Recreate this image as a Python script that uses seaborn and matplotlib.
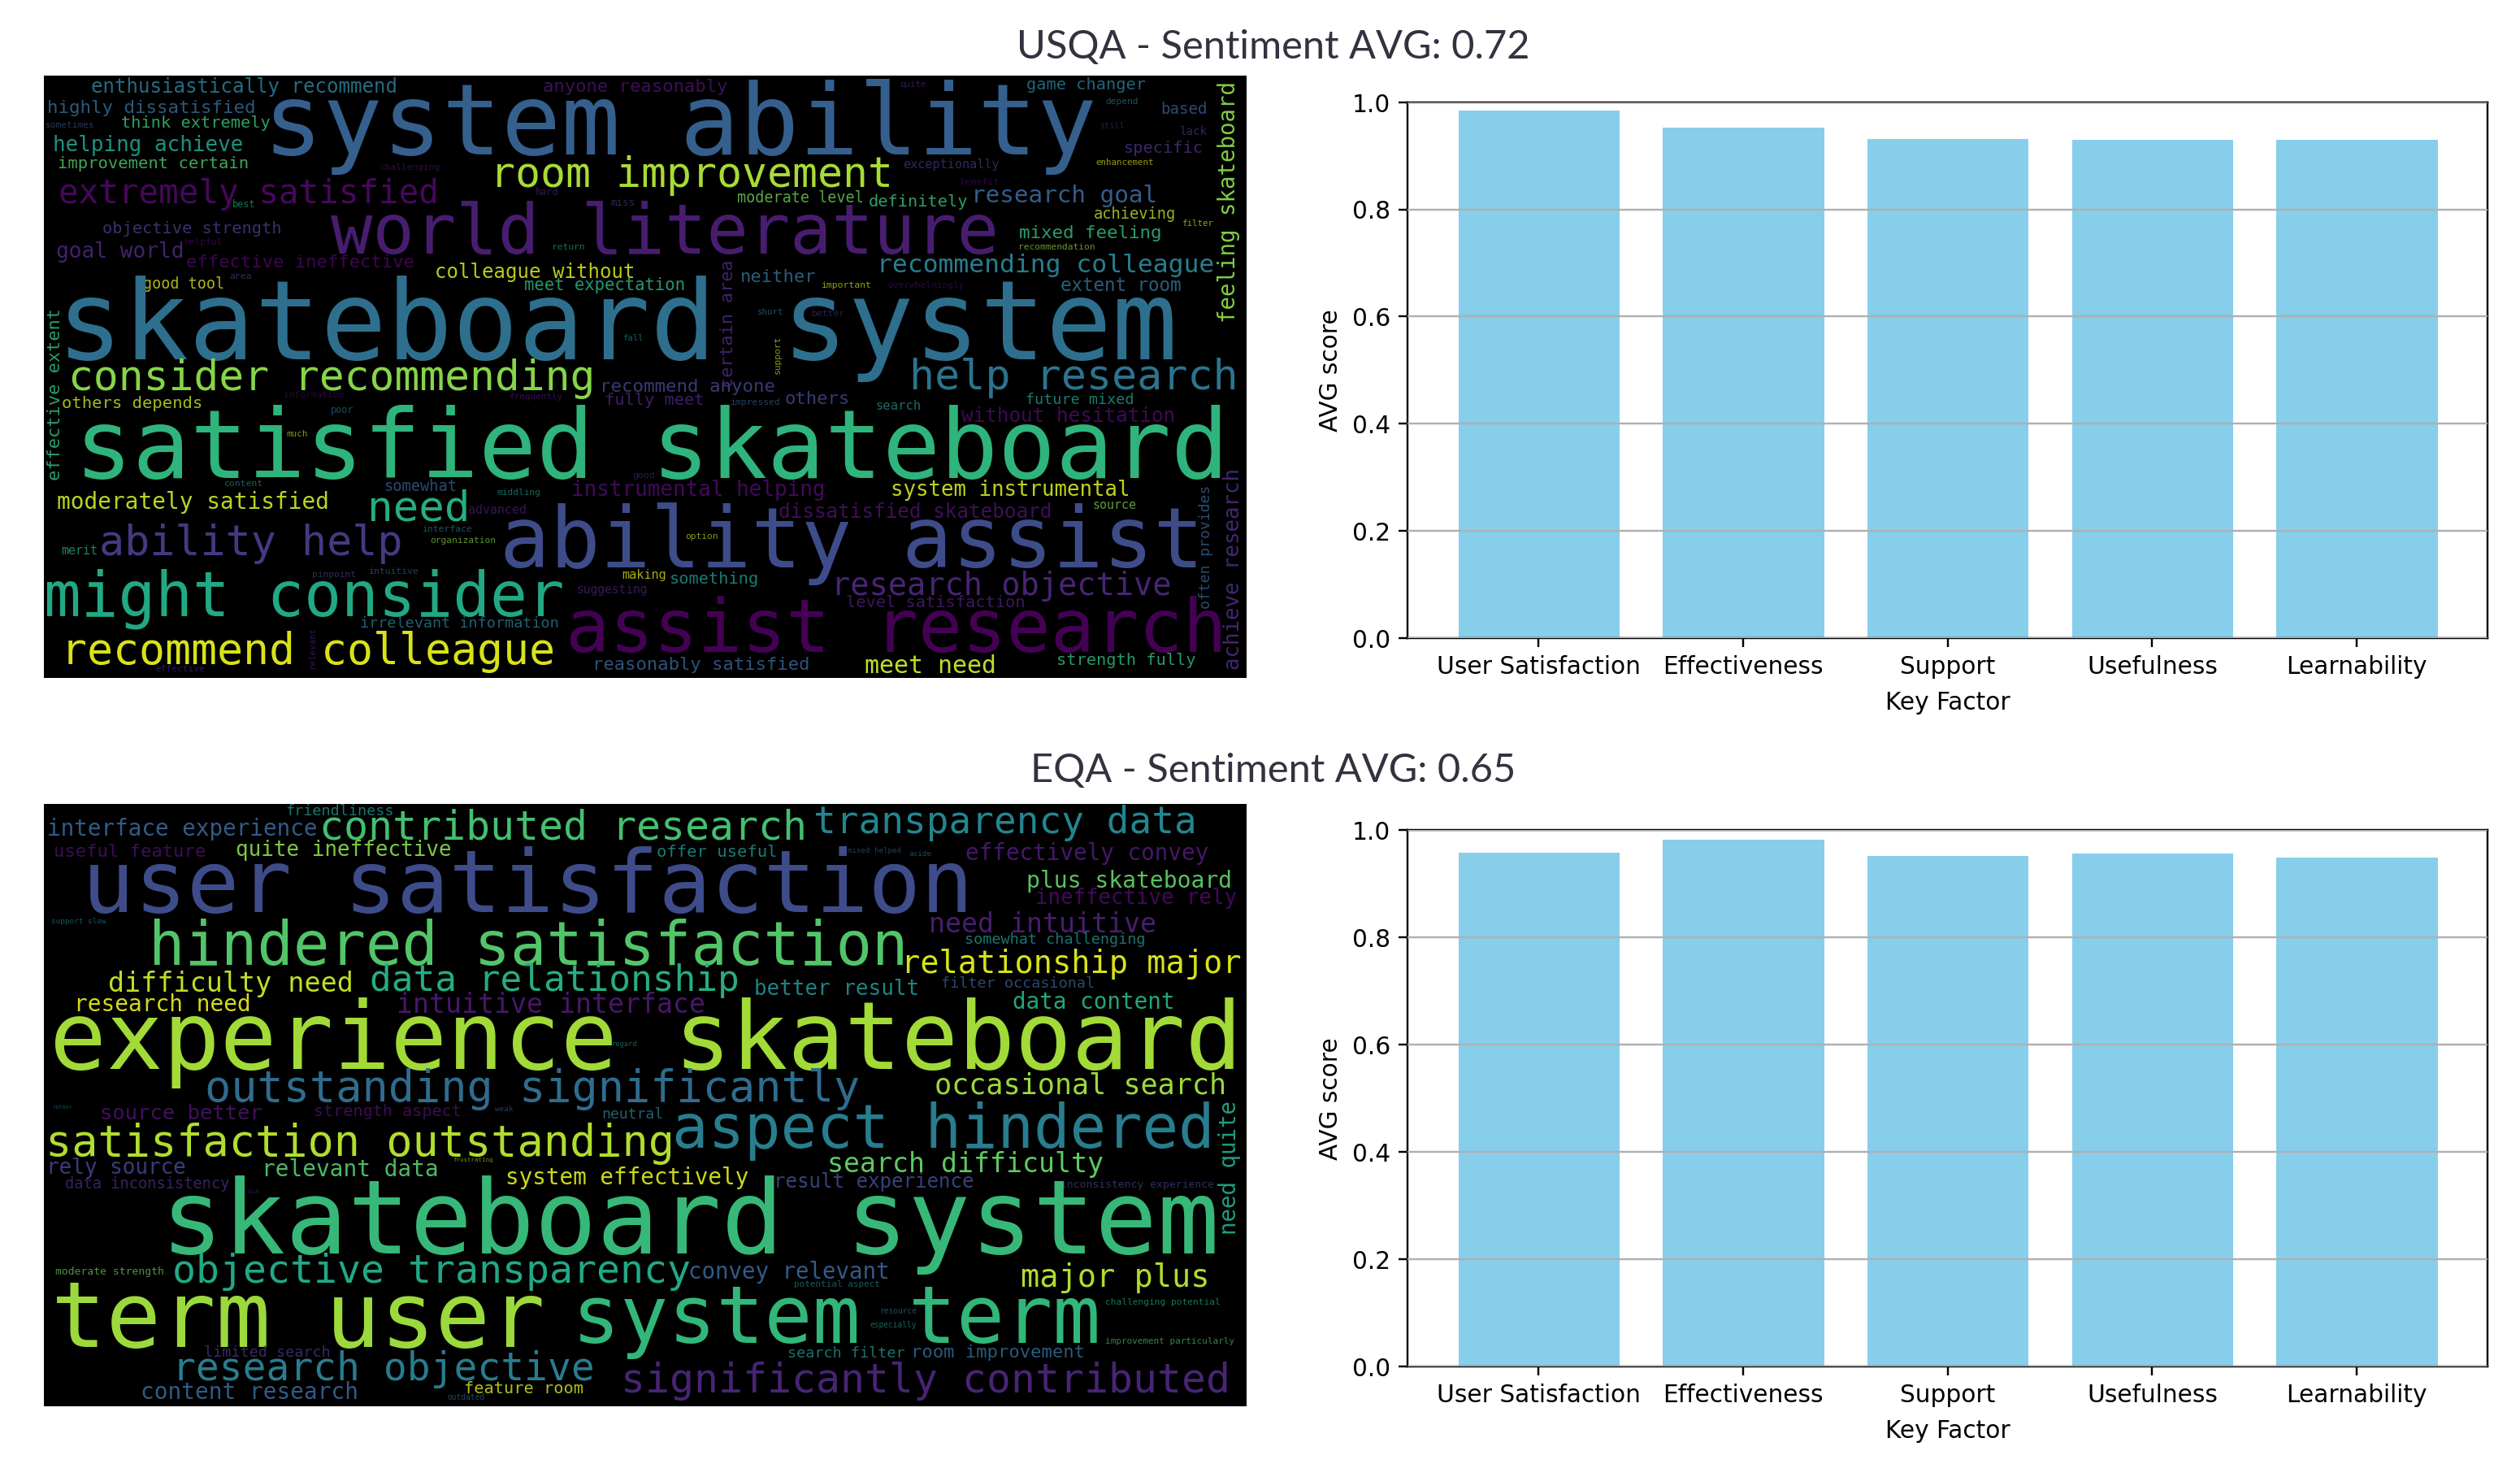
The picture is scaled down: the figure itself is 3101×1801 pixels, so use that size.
import matplotlib
matplotlib.use("Agg")
import matplotlib.pyplot as plt
import pandas as pd
import seaborn as sns

# bar chart data
factors = ["User Satisfaction", "Effectiveness", "Support", "Usefulness", "Learnability"]
usqa_scores = [0.988, 0.956, 0.935, 0.933, 0.933]
eqa_scores = [0.961, 0.984, 0.955, 0.959, 0.951]
score_ticks = [0.0, 0.2, 0.4, 0.6, 0.8, 1.0]

usqa_title = "USQA - Sentiment AVG: 0.72"
eqa_title = "EQA - Sentiment AVG: 0.65"

# word cloud words
usqa_words = [
    "enthusiastically recommend", "anyone reasonably", "highly dissatisfied", "sometimes", "think extremely",
    "system ability", "helping achieve", "improvement certain", "challenging", "room improvement",
    "extremely satisfied", "hard", "miss", "best", "world literature", "objective strength", "helpful",
    "goal world", "return", "effective ineffective", "colleague without", "area", "good tool",
    "meet expectation", "skateboard system", "fall", "consider recommending", "quite", "game changer",
    "depend", "based", "still", "lack", "specific", "exceptionally", "enhancement", "benefit",
    "moderate level", "definitely", "research goal", "achieving", "filter", "mixed feeling",
    "recommendation", "recommending colleague", "neither", "important", "overwhelmingly", "extent room",
    "short", "better", "others depends", "information", "frequently", "recommend anyone", "fully meet",
    "satisfied skateboard", "poor", "much", "content", "somewhat", "middling", "instrumental helping",
    "good", "moderately satisfied", "need", "advanced", "interface", "organization", "ability help",
    "merit", "ability assist", "pinpoint", "intuitive", "making", "might consider", "suggesting",
    "something", "irrelevant information", "assist research", "recommend colleague", "effective",
    "reasonably satisfied", "others", "impressed", "search", "help research", "future mixed",
    "without hesitation", "system instrumental", "dissatisfied skateboard", "source", "option",
    "research objective", "level satisfaction", "meet need", "strength fully",
]
usqa_side_words = [
    "effective extent", "certain area", "feeling skateboard", "support", "relevant", "often provides",
    "achieve research",
]
eqa_words = [
    "friendliness", "interface experience", "contributed research", "transparency data", "useful feature",
    "quite ineffective", "user satisfaction", "offer useful", "mixed helped", "aside", "effectively convey",
    "plus skateboard", "ineffective rely", "support slow", "hindered satisfaction", "need intuitive",
    "somewhat challenging", "relationship major", "data relationship", "difficulty need", "better result",
    "filter occasional", "research need", "intuitive interface", "data content", "experience skateboard",
    "regard", "outstanding significantly", "occasional search", "rather", "source better", "strength aspect",
    "weak", "neutral", "satisfaction outstanding", "aspect hindered", "frustrating", "rely source",
    "relevant data", "system effectively", "search difficulty", "result experience",
    "inconsistency experience", "data inconsistency", "luck", "skateboard system", "moderate strength",
    "objective transparency", "convey relevant", "major plus", "potential aspect", "term user", "system term",
    "challenging potential", "resource", "especially", "improvement particularly", "limited search",
    "search filter", "room improvement", "research objective", "significantly contributed", "content research",
    "feature room", "outdated",
]
eqa_side_words = ["need quite"]

# word placement in picture pixels: left, right, baseline, colour position on viridis
usqa_place = {
    "enthusiastically recommend": (114, 488, 114, 0.40), "anyone reasonably": (670, 895, 113, 0.05),
    "highly dissatisfied": (60, 314, 139, 0.33), "sometimes": (57, 116, 157, 0.25),
    "think extremely": (150, 330, 157, 0.68), "system ability": (333, 1342, 190, 0.30),
    "helping achieve": (67, 298, 186, 0.55), "improvement certain": (72, 303, 207, 0.72),
    "challenging": (469, 542, 209, 0.05), "room improvement": (607, 1096, 230, 0.87),
    "extremely satisfied": (75, 537, 250, 0.02), "hard": (660, 687, 240, 0.10), "miss": (752, 780, 253, 0.15),
    "best": (287, 314, 255, 0.60), "world literature": (413, 1224, 312, 0.08),
    "objective strength": (127, 345, 287, 0.17), "helpful": (228, 274, 301, 0.02),
    "goal world": (71, 225, 317, 0.10), "return": (680, 719, 307, 0.55),
    "effective ineffective": (231, 509, 329, 0.02), "colleague without": (537, 779, 342, 0.93),
    "area": (283, 309, 343, 0.20), "good tool": (177, 275, 355, 0.93), "meet expectation": (646, 841, 357, 0.65),
    "skateboard system": (79, 1439, 442, 0.36), "fall": (767, 791, 419, 0.50),
    "consider recommending": (88, 731, 480, 0.82), "quite": (1108, 1139, 107, 0.10),
    "game changer": (1264, 1408, 110, 0.40), "depend": (1361, 1400, 128, 0.38), "based": (1429, 1484, 140, 0.28),
    "still": (1355, 1384, 158, 0.10), "lack": (1453, 1485, 166, 0.15), "specific": (1384, 1479, 188, 0.13),
    "exceptionally": (1112, 1228, 207, 0.15), "enhancement": (1349, 1420, 203, 0.95),
    "benefit": (1183, 1230, 227, 0.02), "moderate level": (908, 1062, 249, 0.78),
    "definitely": (1070, 1189, 254, 0.68), "research goal": (1197, 1423, 249, 0.30),
    "achieving": (1347, 1446, 269, 0.90), "filter": (1456, 1494, 278, 0.95),
    "mixed feeling": (1255, 1428, 293, 0.65), "recommendation": (1254, 1347, 307, 0.85),
    "recommending colleague": (1081, 1492, 335, 0.42), "neither": (912, 1002, 347, 0.35),
    "important": (1011, 1071, 354, 0.95), "overwhelmingly": (1093, 1186, 354, 0.03),
    "extent room": (1306, 1452, 358, 0.35), "short": (933, 964, 387, 0.40), "better": (1000, 1040, 389, 0.12),
    "others depends": (77, 247, 502, 0.90), "information": (350, 423, 489, 0.02),
    "frequently": (628, 693, 491, 0.08), "recommend anyone": (740, 952, 482, 0.20),
    "fully meet": (745, 865, 498, 0.10), "satisfied skateboard": (100, 1504, 588, 0.65),
    "poor": (408, 435, 508, 0.35), "much": (353, 378, 537, 0.90), "content": (277, 324, 598, 0.45),
    "somewhat": (473, 560, 604, 0.28), "middling": (612, 664, 609, 0.55),
    "instrumental helping": (705, 1013, 610, 0.03), "good": (779, 805, 588, 0.10),
    "moderately satisfied": (72, 403, 626, 0.90), "need": (456, 575, 640, 0.62),
    "advanced": (577, 647, 632, 0.08), "interface": (520, 580, 654, 0.42),
    "organization": (530, 610, 668, 0.82), "ability help": (126, 493, 683, 0.17), "merit": (76, 119, 682, 0.62),
    "ability assist": (622, 1474, 698, 0.23), "pinpoint": (385, 437, 710, 0.20),
    "intuitive": (454, 514, 706, 0.30), "making": (766, 819, 712, 0.95),
    "might consider": (59, 689, 757, 0.60), "suggesting": (710, 796, 730, 0.10),
    "something": (825, 932, 718, 0.50), "irrelevant information": (444, 686, 772, 0.40),
    "assist research": (702, 1504, 802, 0.00), "recommend colleague": (79, 681, 817, 0.94),
    "effective": (192, 251, 826, 0.10), "reasonably satisfied": (731, 994, 824, 0.30),
    "others": (967, 1044, 497, 0.20), "impressed": (899, 959, 498, 0.30), "search": (1078, 1132, 504, 0.50),
    "help research": (1123, 1521, 479, 0.38), "future mixed": (1263, 1393, 497, 0.55),
    "without hesitation": (1185, 1445, 519, 0.03), "system instrumental": (1098, 1389, 610, 0.92),
    "dissatisfied skateboard": (960, 1292, 637, 0.04), "source": (1345, 1397, 626, 0.80),
    "option": (844, 883, 663, 0.90), "research objective": (1026, 1439, 732, 0.10),
    "level satisfaction": (1042, 1260, 747, 0.08), "meet need": (1066, 1224, 828, 0.90),
    "strength fully": (1301, 1470, 818, 0.65),
}
# side words: baseline x, bottom, top, colour position
usqa_side_place = {
    "effective extent": (74, 589, 380, 0.65), "certain area": (902, 475, 320, 0.12),
    "feeling skateboard": (1520, 395, 100, 0.82), "support": (960, 459, 413, 0.90),
    "relevant": (387, 822, 772, 0.10), "often provides": (1489, 748, 597, 0.30),
    "achieve research": (1525, 822, 577, 0.12),
}
eqa_place = {
    "friendliness": (353, 484, 1003, 0.50), "interface experience": (60, 389, 1028, 0.30),
    "contributed research": (396, 989, 1032, 0.70), "transparency data": (1004, 1469, 1025, 0.45),
    "useful feature": (68, 253, 1054, 0.04), "quite ineffective": (292, 555, 1053, 0.82),
    "user satisfaction": (108, 1189, 1122, 0.23), "offer useful": (809, 954, 1054, 0.50),
    "mixed helped": (1044, 1109, 1049, 0.30), "aside": (1119, 1146, 1053, 0.35),
    "effectively convey": (1190, 1486, 1058, 0.07), "plus skateboard": (1265, 1514, 1092, 0.75),
    "ineffective rely": (1276, 1521, 1112, 0.03), "support slow": (64, 131, 1136, 0.45),
    "hindered satisfaction": (188, 1112, 1187, 0.73), "need intuitive": (1145, 1420, 1147, 0.08),
    "somewhat challenging": (1188, 1408, 1161, 0.50), "relationship major": (1112, 1525, 1197, 0.94),
    "data relationship": (458, 907, 1219, 0.62), "difficulty need": (135, 432, 1220, 0.90),
    "better result": (930, 1129, 1224, 0.48), "filter occasional": (1159, 1345, 1215, 0.28),
    "research need": (93, 307, 1244, 0.95), "intuitive interface": (490, 865, 1246, 0.06),
    "data content": (1248, 1444, 1241, 0.62), "experience skateboard": (69, 1521, 1315, 0.86),
    "regard": (753, 783, 1287, 0.55), "outstanding significantly": (256, 1055, 1355, 0.35),
    "occasional search": (1152, 1507, 1345, 0.85), "rather": (65, 89, 1364, 0.40),
    "source better": (125, 321, 1377, 0.05), "strength aspect": (387, 566, 1373, 0.04),
    "weak": (610, 631, 1367, 0.30), "neutral": (741, 815, 1376, 0.40),
    "satisfaction outstanding": (60, 825, 1422, 0.88), "aspect hindered": (832, 1490, 1412, 0.42),
    "frustrating": (558, 606, 1429, 0.92), "rely source": (59, 228, 1444, 0.18),
    "relevant data": (324, 537, 1447, 0.72), "system effectively": (624, 920, 1457, 0.93),
    "search difficulty": (1020, 1356, 1442, 0.75), "result experience": (954, 1197, 1461, 0.22),
    "inconsistency experience": (1306, 1492, 1461, 0.20), "data inconsistency": (81, 280, 1462, 0.12),
    "luck": (304, 319, 1468, 0.15), "skateboard system": (207, 1492, 1542, 0.67),
    "moderate strength": (69, 201, 1568, 0.78), "objective transparency": (215, 847, 1578, 0.60),
    "convey relevant": (849, 1094, 1573, 0.30), "major plus": (1259, 1486, 1583, 0.88),
    "potential aspect": (978, 1083, 1583, 0.42), "term user": (71, 663, 1657, 0.85),
    "system term": (711, 1347, 1652, 0.66), "challenging potential": (1361, 1500, 1605, 0.62),
    "resource": (1083, 1128, 1616, 0.40), "especially": (1071, 1127, 1633, 0.55),
    "improvement particularly": (1361, 1519, 1653, 0.72), "limited search": (252, 404, 1669, 0.15),
    "search filter": (970, 1111, 1670, 0.50), "room improvement": (1122, 1332, 1670, 0.33),
    "research objective": (215, 727, 1698, 0.42), "significantly contributed": (767, 1509, 1713, 0.10),
    "content research": (175, 438, 1721, 0.30), "feature room": (572, 716, 1714, 0.93),
    "outdated": (551, 596, 1722, 0.35),
}
eqa_side_place = {"need quite": (1521, 1517, 1355, 0.58)}

W, H = 3101, 1801
DPI = 217
CHAR_W = 0.602  # advance of DejaVu Sans Mono, in em
BEARING = 0.07  # blank space either side of a glyph, in em

sns.set_theme(style="white")
plt.rcParams["font.family"] = "DejaVu Sans"
plt.rcParams["xtick.bottom"] = True
plt.rcParams["ytick.left"] = True
viridis = sns.color_palette("viridis", as_cmap=True)


def px_axes(fig, left, top, right, bottom):
    return fig.add_axes([left / W, 1 - bottom / H, (right - left) / W, (bottom - top) / H])


def fit_em(word, span):
    return span / (len(word) * CHAR_W - 2 * BEARING)


def dim(em):
    # small words come out fainter in the reference
    return min(1, 0.5 + em / 60)


def word_cloud(fig, box, words, place, side_words, side_place):
    ax = px_axes(fig, *box)
    ax.set_facecolor("black")
    ax.set_xlim(box[0], box[2])
    ax.set_ylim(box[3], box[1])
    ax.set_xticks([])
    ax.set_yticks([])
    sns.despine(ax=ax, left=True, bottom=True)
    for w in words:
        x0, x1, base, v = place[w]
        em = fit_em(w, x1 - x0)
        ax.text(x0 - BEARING * em, base, w, fontsize=em * 72 / DPI, family="DejaVu Sans Mono",
                color=viridis(v), alpha=dim(em), ha="left", va="baseline", clip_on=True)
    for w in side_words:
        xb, y0, y1, v = side_place[w]
        em = fit_em(w, y0 - y1)
        ax.text(xb, y0 + BEARING * em, w, fontsize=em * 72 / DPI, family="DejaVu Sans Mono",
                color=viridis(v), alpha=dim(em), rotation=90, rotation_mode="anchor",
                ha="left", va="baseline", clip_on=True)


def score_bars(fig, box, scores):
    ax = px_axes(fig, *box)
    df = pd.DataFrame({"Key Factor": factors, "AVG score": scores})
    sns.barplot(data=df, x="Key Factor", y="AVG score", color="skyblue", saturation=1, width=0.8, ax=ax)
    ax.set_xlim(-0.64, 4.64)
    ax.set_ylim(0, 1)
    ax.set_yticks(score_ticks)
    ax.yaxis.grid(True, color="#b0b0b0", linewidth=0.8)
    ax.set_axisbelow(False)
    for s in ax.spines.values():
        s.set_color("black")
        s.set_linewidth(0.8)
    ax.tick_params(colors="black", length=3.5, width=0.8, labelsize=9.85)
    ax.set_xlabel("Key Factor", fontsize=9.85, color="black", labelpad=5)
    ax.set_ylabel("AVG score", fontsize=9.85, color="black", labelpad=4)


fig = plt.figure(figsize=((W + 0.2) / DPI, (H + 0.2) / DPI), dpi=DPI)

word_cloud(fig, (54, 93, 1534, 834), usqa_words, usqa_place, usqa_side_words, usqa_side_place)
word_cloud(fig, (54, 989, 1534, 1730), eqa_words, eqa_place, eqa_side_words, eqa_side_place)
score_bars(fig, (1732, 126, 3061, 785), usqa_scores)
score_bars(fig, (1732, 1021, 3061, 1681), eqa_scores)

for title, y in [(usqa_title, 72), (eqa_title, 962)]:
    fig.text(1567 / W, 1 - y / H, title, fontsize=16.2, family="Lato", color="#31333F", ha="center", va="baseline")

fig.savefig("out.png", dpi=DPI, facecolor="white")
